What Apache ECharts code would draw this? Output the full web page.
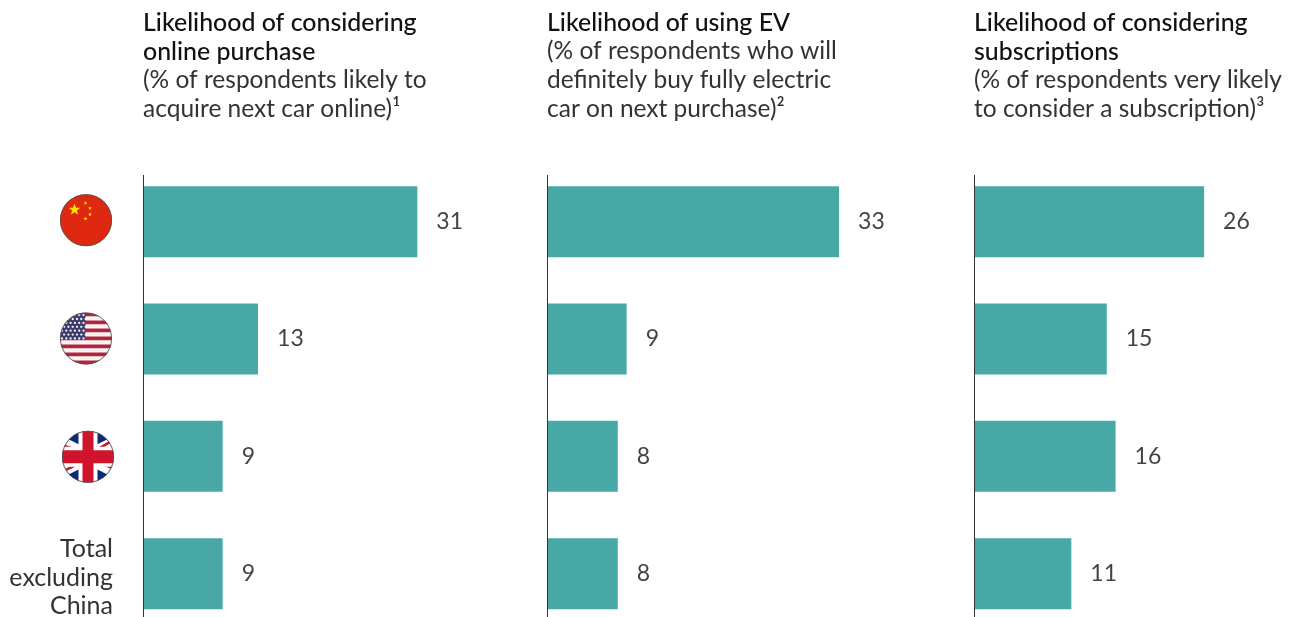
<!DOCTYPE html>
<html>
<head>
<meta charset="utf-8">
<style>html,body{margin:0;padding:0;background:#fff}#chart{width:1291px;height:617px}</style>
<script src="https://cdn.jsdelivr.net/npm/echarts@6/dist/echarts.min.js"></script>
</head>
<body>
<div id="chart"></div>
<script>
const categories = ['China', 'United States', 'United Kingdom', 'Total\nexcluding\nChina'];
const onlinePurchase = [31, 13, 9, 9];
const electricVehicle = [33, 9, 8, 8];
const subscriptions = [26, 15, 16, 11];

const headings = [
  ['Likelihood of considering', 'online purchase'],
  ['Likelihood of using EV'],
  ['Likelihood of considering', 'subscriptions']
];
const subheadings = [
  ['(% of respondents likely to', 'acquire next car online)¹'],
  ['(% of respondents who will', 'definitely buy fully electric', 'car on next purchase)²'],
  ['(% of respondents very likely', 'to consider a subscription)³']
];

const panelLefts = [143, 547, 974];
const panelValues = [onlinePurchase, electricVehicle, subscriptions];
const FONT = 'Lato, "Noto Sans", sans-serif';
const BAR = '#48a8a6';

// Round flag icons, drawn as small SVGs and clipped to a circle
function badge(cx, cy, inner) {
  const svg = `<svg xmlns="http://www.w3.org/2000/svg" width="56" height="60" viewBox="0 0 56 60">
<defs><clipPath id="c"><circle cx="26" cy="26" r="26"/></clipPath></defs>
<g transform="translate(${cx - 26} ${cy - 26})"><g clip-path="url(#c)">${inner}</g>
<circle cx="26" cy="26" r="25.6" fill="none" stroke="#555" stroke-width="0.9"/></g></svg>`;
  return 'data:image/svg+xml;charset=utf-8,' + encodeURIComponent(svg);
}
function star(x, y, r, fill) {
  let pts = [];
  for (let i = 0; i < 10; i++) {
    const a = -Math.PI / 2 + i * Math.PI / 5, q = i % 2 ? r * 0.4 : r;
    pts.push((x + q * Math.cos(a)).toFixed(2) + ',' + (y + q * Math.sin(a)).toFixed(2));
  }
  return `<polygon points="${pts.join(' ')}" fill="${fill}"/>`;
}
const cnFlag = `<rect width="52" height="52" fill="#de2910"/>` + star(14.5, 15.5, 6.2, '#ffde00') +
  star(25.5, 9, 2.1, '#ffde00') + star(30, 14, 2.1, '#ffde00') + star(30, 20.3, 2.1, '#ffde00') + star(25.5, 24.5, 2.1, '#ffde00');

let usStripes = '';
for (let i = 0; i < 13; i++) {
  usStripes += `<rect y="${i * 4}" width="52" height="4" fill="${i % 2 ? '#f6f3f4' : '#b0243c'}"/>`;
}
let usStars = '';
for (let r = 0; r < 7; r++) {
  for (let c = 0; c < 6; c++) {
    usStars += `<circle cx="${2 + c * 4.3 + (r % 2 ? 2.1 : 0)}" cy="${2.6 + r * 3.9}" r="1.15" fill="#f2f2f6"/>`;
  }
}
const usFlag = usStripes + `<rect width="25.5" height="27.5" fill="#3c3b6e"/>` + usStars;

const ukFlag = `<rect width="52" height="52" fill="#0a2a78"/>
<path d="M-26 0L78 52M78 0L-26 52" stroke="#fff" stroke-width="14"/>
<path d="M2 15L14 19M50 10L38 17M4 39L16 33M40 33L50 37" stroke="#cf142b" stroke-width="2.6"/>
<path d="M26 0V52" stroke="#fff" stroke-width="19"/>
<path d="M0 26H52" stroke="#fff" stroke-width="20"/>
<path d="M26 0V52" stroke="#cf142b" stroke-width="11"/>
<path d="M0 26H52" stroke="#cf142b" stroke-width="13"/>`;

const flagImages = [badge(28, 28.5, cnFlag), badge(28, 29.5, usFlag), badge(30, 30.5, ukFlag)];

const rowLabelRich = { txt: { fontFamily: FONT, fontSize: 25, lineHeight: 28.6, color: '#333', align: 'right', padding: [8, 1, 0, 0] } };
flagImages.forEach((img, i) => {
  rowLabelRich['flag' + i] = { width: 56, height: 60, backgroundColor: { image: img } };
});

const grids = [], xAxes = [], yAxes = [], series = [], titles = [];
panelLefts.forEach((left, p) => {
  grids.push({ left: left, width: 354, top: 163, height: 469.33, outerBoundsMode: 'none' });
  xAxes.push({ type: 'value', gridIndex: p, min: 0, max: 40, show: false });
  yAxes.push({
    type: 'category', gridIndex: p, data: categories, inverse: true,
    axisLine: { show: false }, axisTick: { show: false },
    axisLabel: {
      show: p === 0, margin: 29, align: 'right', rich: rowLabelRich,
      formatter: (v, i) => i < flagImages.length ? `{flag${i}|}` : `{txt|${v}}`
    }
  });
  series.push({
    type: 'bar', xAxisIndex: p, yAxisIndex: p, data: panelValues[p], barWidth: 71,
    itemStyle: { color: BAR },
    label: { show: true, position: 'right', distance: 19, fontFamily: FONT, fontSize: 23, color: '#444' },
    markLine: {
      silent: true, symbol: 'none', animation: false, label: { show: false },
      lineStyle: { color: '#333', width: 1, type: 'solid' },
      data: [[{ xAxis: 0, y: 175 }, { xAxis: 0, y: 617 }]]
    },
    animation: false
  });
  const lines = headings[p].map(t => `{h|${t}}`).concat(subheadings[p].map(t => `{s|${t}}`));
  titles.push({
    left: left, top: 8.5, padding: 0,
    text: lines.join('\n'),
    textStyle: {
      rich: {
        h: { fontFamily: FONT, fontSize: 24.9, fontWeight: 500, lineHeight: 28.7, color: '#111' },
        s: { fontFamily: FONT, fontSize: 24.5, fontWeight: 'normal', lineHeight: 28.7, color: '#333' }
      }
    }
  });
});

const chart = echarts.init(document.getElementById('chart'));
chart.setOption({
  backgroundColor: '#fff', animation: false, title: titles,
  grid: grids, xAxis: xAxes, yAxis: yAxes, series: series, tooltip: { show: false }
});
</script>
</body>
</html>
